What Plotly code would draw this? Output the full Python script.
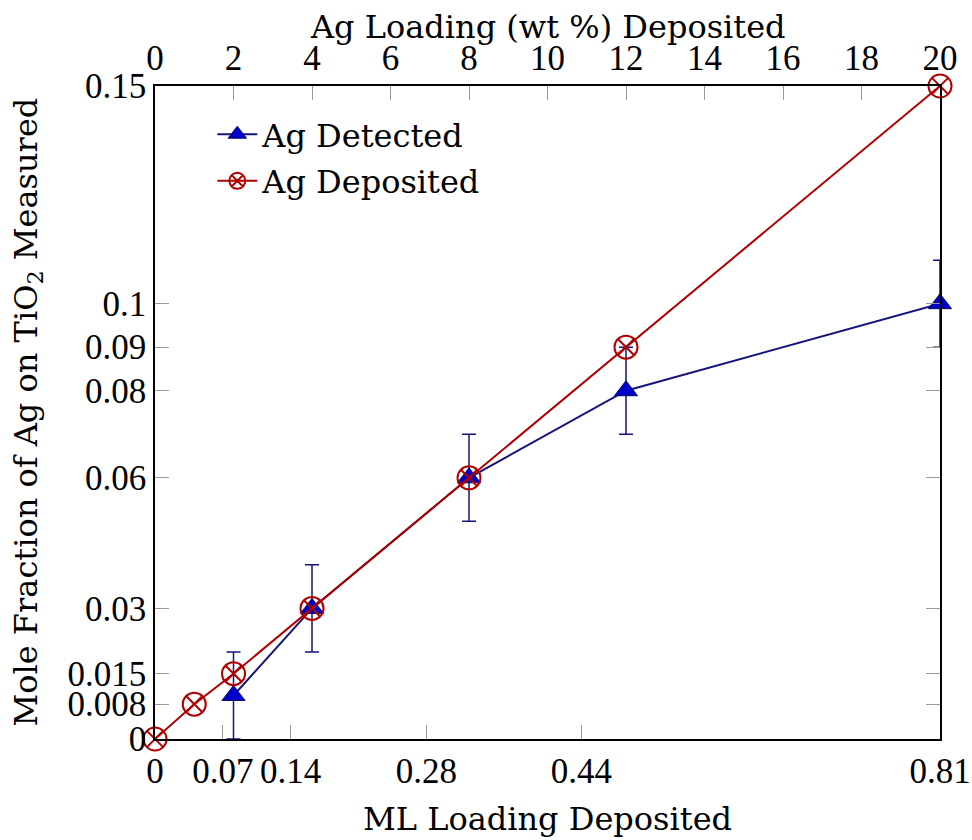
import plotly.graph_objects as go

# Data (x in wt % deposited, top axis)
det_x = [2, 4, 8, 12, 20]
det_y = [0.01, 0.03, 0.06, 0.08, 0.10]
det_err = [0.01, 0.01, 0.01, 0.01, 0.01]

dep_x = [0, 1, 2, 4, 8, 12, 20]
dep_y = [0, 0.008, 0.015, 0.03, 0.06, 0.09, 0.15]

ml_ticks = [0, 0.07, 0.14, 0.28, 0.44, 0.81]
ml_labels = ["0", "0.07", "0.14", "0.28", "0.44", "0.81"]
wt_ticks = [0, 2, 4, 6, 8, 10, 12, 14, 16, 18, 20]
y_ticks = [0, 0.008, 0.015, 0.03, 0.06, 0.08, 0.09, 0.1, 0.15]
y_labels = ["0", "0.008", "0.015", "0.03", "0.06", "0.08", "0.09", "0.1", "0.15"]

FONT = "DejaVu Serif"
FS = 32
TICKFONT = "Liberation Serif"
TFS = 35
TICKC = "#9a9a9a"

fig = go.Figure()
# invisible anchor trace for the bottom (ML) axis
fig.add_trace(go.Scatter(
    x=[ml_ticks[0], ml_ticks[-1]], y=[y_ticks[0], y_ticks[0]],
    xaxis="x", yaxis="y", mode="markers", showlegend=False,
    hoverinfo="skip", marker=dict(opacity=0, size=1),
))
fig.add_trace(go.Scatter(
    x=det_x, y=det_y, xaxis="x2", yaxis="y", name="Ag Detected",
    legendgroup="det", mode="lines+markers", cliponaxis=False,
    line=dict(color="#14147a", width=2),
    marker=dict(symbol="triangle-up", size=20, color="#0000cc",
                line=dict(color="#0a0a60", width=1)),
    error_y=dict(type="data", array=det_err, visible=True,
                 color="#14147a", thickness=1.5, width=7),
))
fig.add_trace(go.Scatter(
    x=dep_x, y=dep_y, xaxis="x2", yaxis="y", name="Ag Deposited",
    legendgroup="dep", mode="lines+markers", cliponaxis=False,
    line=dict(color="#b00000", width=2),
    marker=dict(symbol="circle-x-open", size=23, color="#b00000",
                line=dict(color="#b00000", width=2)),
))

axis_common = dict(showgrid=False, zeroline=False, showline=True,
                   linecolor="black", linewidth=1.5, ticks="inside",
                   ticklen=14, tickwidth=1, tickcolor=TICKC, tickangle=0,
                   automargin=False, ticklabeloverflow="allow",
                   tickfont=dict(family=TICKFONT, size=TFS, color="black"))

title_font = dict(family=FONT, size=FS, color="black")

fig.update_layout(
    width=972, height=840,
    margin=dict(l=155, r=32, t=86, b=101),
    paper_bgcolor="white", plot_bgcolor="white",
    font=dict(family=FONT, size=FS, color="black"),
    showlegend=True,
    legend=dict(x=0.073, y=0.968, xanchor="left", yanchor="top",
                bgcolor="rgba(255,255,255,0)", borderwidth=0,
                font=dict(family=FONT, size=FS), itemwidth=40,
                tracegroupgap=2),
    xaxis=dict(range=[0, 0.81], tickmode="array", tickvals=ml_ticks,
               ticktext=ml_labels, side="bottom", anchor="y",
               **axis_common),
    xaxis2=dict(range=[0, 20], tickmode="array", tickvals=wt_ticks,
                side="top", overlaying="x", anchor="y",
                **axis_common),
    yaxis=dict(range=[0, 0.15], tickmode="array", tickvals=y_ticks,
               ticktext=y_labels, mirror="ticks", anchor="x",
               **axis_common),
    annotations=[
        dict(text="Ag Loading (wt %) Deposited", xref="paper", yref="paper",
             x=0.5, y=1.0905, xanchor="center", yanchor="middle",
             showarrow=False, font=title_font),
        dict(text="ML Loading Deposited", xref="paper", yref="paper",
             x=0.5, y=-0.123, xanchor="center", yanchor="middle",
             showarrow=False, font=title_font),
        dict(text="Mole Fraction of Ag on TiO<sub>2</sub> Measured",
             xref="paper", yref="paper", x=-0.163, y=0.50,
             xanchor="center", yanchor="middle", textangle=-90,
             showarrow=False, font=title_font),
    ],
)

fig.write_html("out.html")
